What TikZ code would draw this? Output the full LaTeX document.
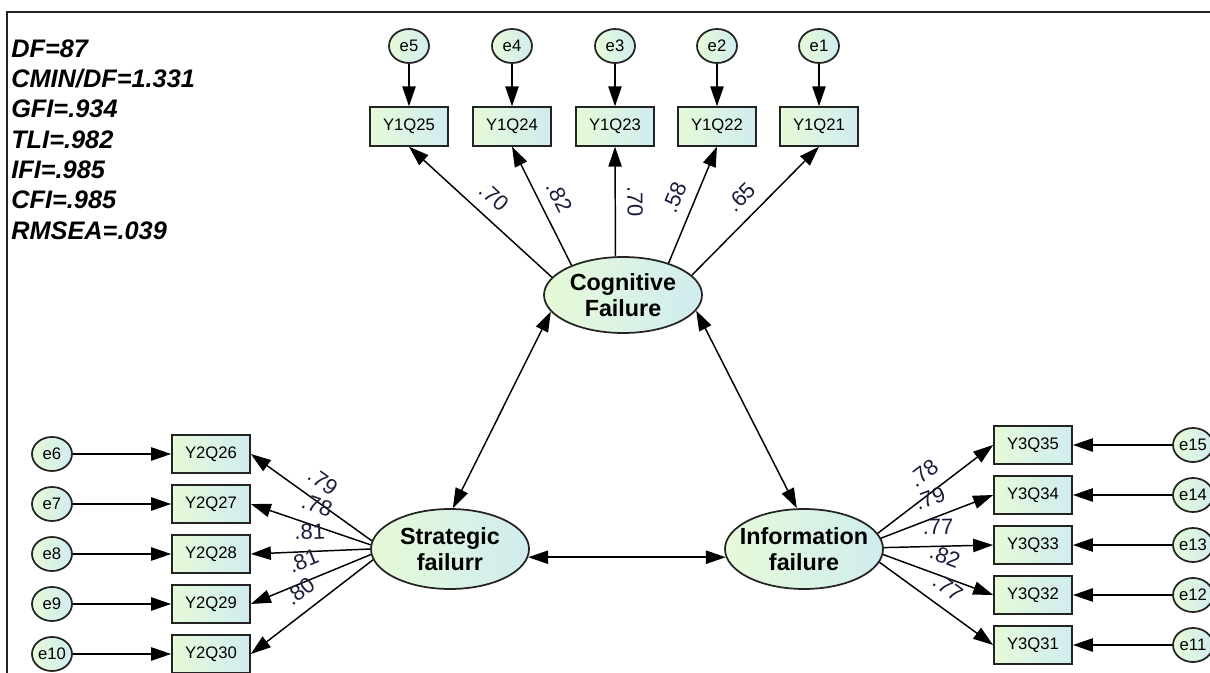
\documentclass[tikz,border=0pt]{standalone}
\usepackage{fontspec}
\setmainfont{Liberation Sans}
\usetikzlibrary{arrows.meta,shapes.geometric}
\definecolor{gl}{RGB}{230,250,215}
\definecolor{gr}{RGB}{208,236,240}
\definecolor{edgec}{RGB}{35,35,35}
\definecolor{ldc}{RGB}{25,30,60}
\begin{document}
\begin{tikzpicture}[x=0.75pt,y=-0.75pt,
  obs/.style={draw=edgec, line width=1.3pt, rectangle, minimum width=58.5pt, minimum height=29pt, inner sep=0pt, left color=gl, right color=gr, font=\fontsize{12.5}{14}\selectfont},
  err/.style={draw=edgec, line width=1.3pt, ellipse, minimum width=30pt, minimum height=25.5pt, inner sep=0pt, left color=gl, right color=gr, font=\fontsize{12.5}{14}\selectfont},
  lat/.style={draw=edgec, line width=1.3pt, ellipse, minimum width=118.5pt, minimum height=60pt, inner sep=0pt, left color=gl, right color=gr},
  lattext/.style={font=\bfseries\fontsize{17.5}{19.5}\selectfont, align=center, inner sep=0pt},
  conn/.style={draw=black, line width=1.1pt, -{Triangle[length=15pt,width=10pt]}},
  dconn/.style={draw=black, line width=1.1pt, {Triangle[length=15pt,width=10pt]}-{Triangle[length=15pt,width=10pt]}},
  ld/.style={sloped, above=8.5pt, inner sep=0pt, pos=0.5, text=ldc, font=\fontsize{16.5}{18}\selectfont},
  stat/.style={anchor=base west, inner sep=0pt, font=\bfseries\itshape\fontsize{19}{22}\selectfont}
]
\useasboundingbox (0,0) rectangle (1210,673);
\fill[white] (0,0) rectangle (1210,673);
% frame
\draw[line width=1.5pt, edgec] (7,673) -- (7,12.5) -- (1212,12.5);

% fit statistics
\node[stat] (s1) at (11,57.3) {DF=87};
\node[stat] (s2) at (11,87.6) {CMIN/DF=1.331};
\node[stat] (s3) at (11,117.9) {GFI=.934};
\node[stat] (s4) at (11,148.2) {TLI=.982};
\node[stat] (s5) at (11,178.5) {IFI=.985};
\node[stat] (s6) at (11,208.8) {CFI=.985};
\node[stat] (s7) at (11,239.1) {RMSEA=.039};

% latent variables
\node[lat, minimum height=57pt] (cog) at (623,295) {};
\node[lattext] at (cog.center) {Cognitive\\Failure};
\node[lat] (strat) at (450,549) {};
\node[lattext] at (strat.center) {Strategic\\failurr};
\node[lat] (info) at (804,549) {};
\node[lattext] at (info.center) {Information\\failure};

% top indicators
\node[obs] (y25) at (409,126.5) {Y1Q25};
\node[obs] (y24) at (512,126.5) {Y1Q24};
\node[obs] (y23) at (615,126.5) {Y1Q23};
\node[obs] (y22) at (717,126.5) {Y1Q22};
\node[obs] (y21) at (819,126.5) {Y1Q21};
\node[err] (e5) at (409,46) {e5};
\node[err] (e4) at (512,46) {e4};
\node[err] (e3) at (615,46) {e3};
\node[err] (e2) at (717,46) {e2};
\node[err] (e1) at (819,46) {e1};

% left indicators
\node[obs] (y26) at (211,454) {Y2Q26};
\node[obs] (y27) at (211,504) {Y2Q27};
\node[obs] (y28) at (211,554) {Y2Q28};
\node[obs] (y29) at (211,604) {Y2Q29};
\node[obs] (y30) at (211,654) {Y2Q30};
\node[err] (e6) at (52,454) {e6};
\node[err] (e7) at (52,504) {e7};
\node[err] (e8) at (52,554) {e8};
\node[err] (e9) at (52,604) {e9};
\node[err] (e10) at (52,654) {e10};

% right indicators
\node[obs] (y35) at (1033,445) {Y3Q35};
\node[obs] (y34) at (1033,495) {Y3Q34};
\node[obs] (y33) at (1033,545) {Y3Q33};
\node[obs] (y32) at (1033,595) {Y3Q32};
\node[obs] (y31) at (1033,645) {Y3Q31};
\node[err] (e15) at (1193,445) {e15};
\node[err] (e14) at (1193,495) {e14};
\node[err] (e13) at (1193,545) {e13};
\node[err] (e12) at (1193,595) {e12};
\node[err] (e11) at (1193,645) {e11};

% error arrows
\foreach \e/\y in {e5/y25,e4/y24,e3/y23,e2/y22,e1/y21,e6/y26,e7/y27,e8/y28,e9/y29,e10/y30,e15/y35,e14/y34,e13/y33,e12/y32,e11/y31}
  \draw[conn] (\e) -- (\y);

% loadings: cognitive
\draw[conn] (cog.166) -- node[ld]{.70} (y25.south);
\draw[conn] (cog.150) -- node[ld]{.82} (y24.south);
\draw[conn] (cog.101) -- node[ld]{.70} (y23.south);
\draw[conn] (cog.35) -- node[ld]{.58} (y22.south);
\draw[conn] (cog.16) -- node[ld]{.65} (y21.south);

% loadings: strategic
\draw[conn] (strat.174) -- node[ld]{.79} (y26.east);
\draw[conn] (strat.177) -- node[ld]{.78} (y27.east);
\draw[conn] (strat.180) -- node[ld]{.81} (y28.east);
\draw[conn] (strat.184) -- node[ld]{.81} (y29.east);
\draw[conn] (strat.188) -- node[ld]{.80} (y30.east);

% loadings: information
\draw[conn] (info.12) -- node[ld]{.78} (y35.west);
\draw[conn] (info.8) -- node[ld]{.79} (y34.west);
\draw[conn] (info.1) -- node[ld]{.77} (y33.west);
\draw[conn] (info.-4) -- node[ld]{.82} (y32.west);
\draw[conn] (info.-10) -- node[ld]{.77} (y31.west);

% covariances
\draw[dconn] (cog.193) -- (strat.86);
\draw[dconn] (cog.348) -- (info.100);
\draw[dconn] (strat.-6) -- (info.186);
\end{tikzpicture}
\end{document}
